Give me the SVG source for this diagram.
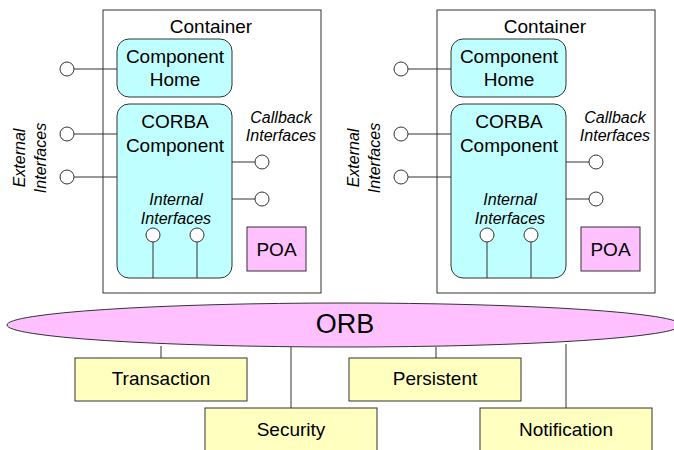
<svg xmlns="http://www.w3.org/2000/svg" width="674" height="450" viewBox="0 0 674 450">
<style>
text{font-family:"Liberation Sans",Arial,sans-serif;fill:#000}
.cont{fill:#fff;stroke:#333;stroke-width:1}
.comp{fill:#c0ffff;stroke:#333;stroke-width:1}
.poa{fill:#ffc0ff;stroke:#333;stroke-width:1}
.svc{fill:#ffffc0;stroke:#333;stroke-width:1}
.port{fill:#fff;stroke:#333;stroke-width:1}
.ln{stroke:#333;stroke-width:1;fill:none}
.big{font-size:19px;text-anchor:middle}
.it{font-size:16px;font-style:italic;text-anchor:middle}
.svt{font-size:19px;text-anchor:middle}
</style>
<g id="container-left">
<rect class="cont" x="103" y="10" width="218" height="283"/>
<text class="big" x="211" y="33">Container</text>
</g>
<g id="home-left">
<rect class="comp" x="117" y="39" width="115" height="58" rx="12"/>
<text class="big" x="175" y="63">Component</text>
<text class="big" x="175" y="86">Home</text>
</g>
<g id="corba-left">
<rect class="comp" x="117" y="104" width="115" height="174" rx="12"/>
<text class="big" x="175" y="128">CORBA</text>
<text class="big" x="175" y="152">Component</text>
<text class="it" x="176" y="205">Internal</text>
<text class="it" x="176" y="224">Interfaces</text>
</g>
<g id="poa-left">
<rect class="poa" x="247" y="227" width="59" height="44"/>
<text class="big" x="276.5" y="256">POA</text>
</g>
<g id="labels-left">
<text class="it" transform="translate(25,158) rotate(-90)">External</text>
<text class="it" transform="translate(46,158) rotate(-90)">Interfaces</text>
<text class="it" x="281" y="123">Callback</text>
<text class="it" x="281" y="141">Interfaces</text>
</g>
<g id="container-right">
<rect class="cont" x="437" y="10" width="218" height="283"/>
<text class="big" x="545" y="33">Container</text>
</g>
<g id="home-right">
<rect class="comp" x="451" y="39" width="115" height="58" rx="12"/>
<text class="big" x="509" y="63">Component</text>
<text class="big" x="509" y="86">Home</text>
</g>
<g id="corba-right">
<rect class="comp" x="451" y="104" width="115" height="174" rx="12"/>
<text class="big" x="509" y="128">CORBA</text>
<text class="big" x="509" y="152">Component</text>
<text class="it" x="510" y="205">Internal</text>
<text class="it" x="510" y="224">Interfaces</text>
</g>
<g id="poa-right">
<rect class="poa" x="581" y="227" width="59" height="44"/>
<text class="big" x="610.5" y="256">POA</text>
</g>
<g id="labels-right">
<text class="it" transform="translate(359,158) rotate(-90)">External</text>
<text class="it" transform="translate(380,158) rotate(-90)">Interfaces</text>
<text class="it" x="615" y="123">Callback</text>
<text class="it" x="615" y="141">Interfaces</text>
</g>
<g id="orb">
<ellipse cx="344" cy="325" rx="337" ry="22" fill="#ffc0ff" stroke="#333" stroke-width="1"/>
<text x="345" y="333" font-size="27" text-anchor="middle">ORB</text>
</g>
<g id="transaction">
<rect class="svc" x="75" y="358" width="172" height="43"/>
<text class="svt" x="161" y="385">Transaction</text>
</g>
<g id="persistent">
<rect class="svc" x="349" y="358" width="172" height="43"/>
<text class="svt" x="435" y="385">Persistent</text>
</g>
<g id="security">
<rect class="svc" x="205" y="408" width="172" height="50"/>
<text class="svt" x="291" y="436">Security</text>
</g>
<g id="notification">
<rect class="svc" x="480" y="408" width="172" height="50"/>
<text class="svt" x="566" y="436">Notification</text>
</g>
<g id="connectors">
<path class="ln" d="M74 69H117M74 134H117M74 177H117M232 162H255M232 199H255M153 242V278M197 242V278"/>
<path class="ln" d="M408 69H451M408 134H451M408 177H451M566 162H589M566 199H589M487 242V278M531 242V278"/>
<path class="ln" d="M161 346V358M291 347V408M436 347V358M566 344V408"/>
<circle class="port" cx="67" cy="69" r="7"/>
<circle class="port" cx="67" cy="134" r="7"/>
<circle class="port" cx="67" cy="177" r="7"/>
<circle class="port" cx="262" cy="162" r="7"/>
<circle class="port" cx="262" cy="199" r="7"/>
<circle class="port" cx="153" cy="235" r="7"/>
<circle class="port" cx="197" cy="235" r="7"/>
<circle class="port" cx="401" cy="69" r="7"/>
<circle class="port" cx="401" cy="134" r="7"/>
<circle class="port" cx="401" cy="177" r="7"/>
<circle class="port" cx="596" cy="162" r="7"/>
<circle class="port" cx="596" cy="199" r="7"/>
<circle class="port" cx="487" cy="235" r="7"/>
<circle class="port" cx="531" cy="235" r="7"/>
</g>
</svg>
